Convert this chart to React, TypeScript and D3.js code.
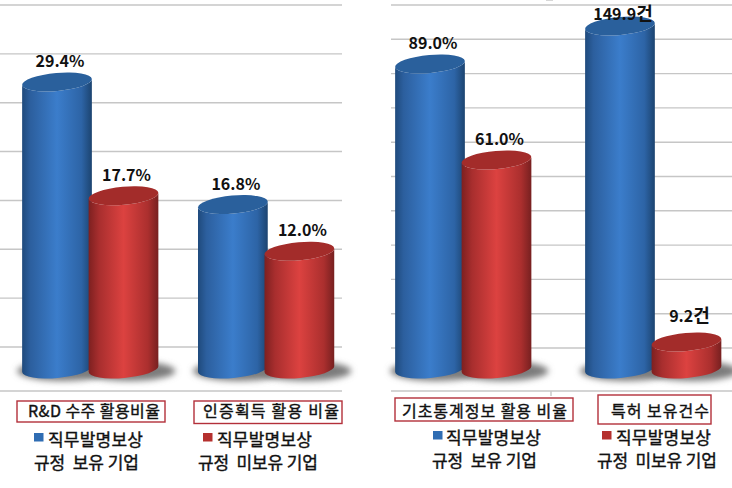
import React from 'react';
import { scaleBand, scaleLinear, scalePoint } from 'd3';

const width = 732;
const height = 488;

const seriesNames = ['보유', '미보유'];
const seriesFill = ['blue', 'red'];

const leftCategories = ['R&D 수주 활용비율', '인증획득 활용 비율'];
const leftPct = [
  [29.4, 17.7],
  [16.8, 12.0],
];

const rightCategories = ['기초통계정보 활용 비율', '특허 보유건수'];
const rightPct = [89.0, 61.0];
const patents = [149.9, 9.2];

// grid levels are counted in the chart's own steps, the source has no axis labels
const leftGrid = [0, 1, 2, 3, 4, 5, 6, 7];
const rightGrid = [0, 1, 2, 3, 4, 5, 6, 7, 8, 9, 10];

const legendTop = '직무발명보상';
const legendBottom = ['규정  보유 기업', '규정  미보유 기업'];

const fontFamily = '"Noto Sans CJK KR", "Noto Sans", sans-serif';
const rx = 35;
const ry = 9;
const tilt = -5;
const rad = (tilt * Math.PI) / 180;
const base = 369;

const leftY = scaleLinear().domain([0, 29.4]).range([368, 82]);
const rightPctY = scaleLinear().domain([0, 89]).range([369, 64]);
const patentY = scaleLinear().domain([9.2, 149.9]).range([342, 26]);

const leftGridY = scaleLinear().domain([0, 7]).range([347, 5]);
const rightGridY = scaleLinear().domain([0, 10]).range([348, 5]);

const leftX = scaleBand<string>().domain(leftCategories).range([22, 334]).paddingInner(0.226);
const rightX = scaleBand<string>().domain(rightCategories).range([395, 721]).paddingInner(0.284);
const seriesX = scalePoint<string>().domain(seriesNames).range([0, 66.5]);

const Cylinder = ({ x, top, color }: { x: number; top: number; color: string }) => {
  const cx = x + rx;
  const dx = rx * Math.cos(rad);
  const dy = rx * Math.sin(rad);
  const body = `M${cx - dx},${top - dy} L${cx - dx},${base - dy} A${rx},${ry} ${tilt} 0 0 ${cx + dx},${base + dy} L${cx + dx},${top + dy} A${rx},${ry} ${tilt} 0 1 ${cx - dx},${top - dy} Z`;
  return (
    <g>
      <path d={body} fill={`url(#${color}Body)`} />
      <ellipse cx={cx} cy={top} rx={rx} ry={ry} transform={`rotate(${tilt} ${cx} ${top})`} fill={color === 'blue' ? '#2a609c' : '#a32c2a'} />
    </g>
  );
};

const Shadow = ({ x }: { x: number }) => (
  <ellipse cx={x + rx + 6} cy={base + 2} rx={rx + 11} ry={ry + 1} fill="#7c7c7c" filter="url(#soft)" />
);

// the unit glyph 건 is set larger than the digits in the source
const Value = ({ x, y, text }: { x: number; y: number; text: string }) => {
  const unit = text.endsWith('건');
  return (
    <text x={x} y={y} textAnchor="middle" fontSize={16} fontWeight={700} fill="#111">
      {unit ? text.slice(0, -1) : text}
      {unit && <tspan fontSize={18}>건</tspan>}
    </text>
  );
};

const Legend = ({ idx, sx, sy, tx, ty, bx, by }: { idx: number; sx: number; sy: number; tx: number; ty: number; bx: number; by: number }) => (
  <g fontSize={17} fill="#111" stroke="#111" strokeWidth={0.4}>
    <rect x={sx} y={sy} width={9.5} height={8.5} fill={idx === 0 ? '#2f6db3' : '#b5302e'} stroke="none" />
    <text x={tx} y={ty} textLength={95}>{legendTop}</text>
    <text x={bx} y={by} textLength={idx === 0 ? 105 : 120} style={{ whiteSpace: 'pre' }}>{legendBottom[idx]}</text>
  </g>
);

const CatBox = ({ text, x, y, w, h, tx, tw }: { text: string; x: number; y: number; w: number; h: number; tx: number; tw: number }) => (
  <g>
    <rect x={x} y={y} width={w} height={h} fill="#fff" stroke="#b3303a" strokeWidth={1.4} />
    <text x={tx} y={417} textLength={tw} fontSize={16} fill="#111" stroke="#111" strokeWidth={0.4}>{text}</text>
  </g>
);

const App: React.FC = () => {
  const leftBars = leftCategories.flatMap((c, i) =>
    seriesNames.map((s, j) => ({ key: c + s, x: leftX(c)! + seriesX(s)!, top: leftY(leftPct[i][j]), color: seriesFill[j], label: `${leftPct[i][j].toFixed(1)}%` }))
  );
  const rightBars = [
    ...seriesNames.map((s, j) => ({ key: 'pct' + s, x: rightX(rightCategories[0])! + seriesX(s)!, top: rightPctY(rightPct[j]), color: seriesFill[j], label: `${rightPct[j].toFixed(1)}%` })),
    ...seriesNames.map((s, j) => ({ key: 'pat' + s, x: rightX(rightCategories[1])! + seriesX(s)!, top: patentY(patents[j]), color: seriesFill[j], label: `${patents[j].toFixed(1)}건` })),
  ];
  const bars = [...leftBars, ...rightBars];
  // labels sit above the cylinder; the tallest one is pulled down to stay on the page,
  // the shortest is lifted clear of its cap
  const labelY = (b: { label: string; top: number }) => {
    if (b.label.endsWith('건')) return b.top > 200 ? b.top - 20 : b.top - 6;
    return b.top - 15;
  };

  return (
    <svg width={width} height={height} viewBox={`0 0 ${width} ${height}`} fontFamily={fontFamily} style={{ position: 'absolute', left: 0, top: 0, background: '#fff' }}>
      <defs>
        <linearGradient id="blueBody" x1="0" x2="1" y1="0" y2="0">
          <stop offset="0" stopColor="#1f4a7c" />
          <stop offset="0.12" stopColor="#2c5f9e" />
          <stop offset="0.5" stopColor="#3b7dcb" />
          <stop offset="0.85" stopColor="#2d64a6" />
          <stop offset="1" stopColor="#1c4470" />
        </linearGradient>
        <linearGradient id="redBody" x1="0" x2="1" y1="0" y2="0">
          <stop offset="0" stopColor="#7d2020" />
          <stop offset="0.15" stopColor="#a82e2e" />
          <stop offset="0.5" stopColor="#dc4240" />
          <stop offset="0.85" stopColor="#ab2f2e" />
          <stop offset="1" stopColor="#772020" />
        </linearGradient>
        <filter id="soft" x="-30%" y="-60%" width="160%" height="220%">
          <feGaussianBlur stdDeviation="3" />
        </filter>
      </defs>

      <g stroke="#c6c6c6" strokeWidth={1.4}>
        {leftGrid.map(d => <line key={d} x1={0} x2={342} y1={leftGridY(d)} y2={leftGridY(d)} />)}
        <line x1={0} x2={342} y1={391} y2={391} />
        {rightGrid.map(d => <line key={d} x1={391} x2={732} y1={rightGridY(d)} y2={rightGridY(d)} />)}
        <line x1={391} x2={732} y1={391} y2={391} />
        <line x1={551} x2={551} y1={391} y2={396} />
        <line x1={546} x2={553} y1={0} y2={0} />
      </g>

      {bars.map(b => <Shadow key={b.key} x={b.x} />)}
      {bars.map(b => <Cylinder key={b.key} x={b.x} top={b.top} color={b.color} />)}
      {bars.map(b => <Value key={b.key} x={b.x + rx + 3} y={labelY(b)} text={b.label} />)}

      <CatBox text={leftCategories[0]} x={17} y={401} w={148} h={21} tx={28} tw={132} />
      <CatBox text={leftCategories[1]} x={194} y={401} w={148} h={22.5} tx={203} tw={136} />
      <CatBox text={rightCategories[0]} x={395} y={398} w={178} h={23} tx={402} tw={165} />
      <CatBox text={rightCategories[1]} x={598} y={395} w={113} h={29} tx={611} tw={98} />

      <Legend idx={0} sx={34} sy={433} tx={48} ty={446} bx={34} by={469} />
      <Legend idx={1} sx={203} sy={433} tx={217} ty={446} bx={198} by={469} />
      <Legend idx={0} sx={433} sy={431} tx={446} ty={444} bx={432} by={467} />
      <Legend idx={1} sx={602} sy={431} tx={616} ty={444} bx={597} by={467} />
    </svg>
  );
};

export default App;
